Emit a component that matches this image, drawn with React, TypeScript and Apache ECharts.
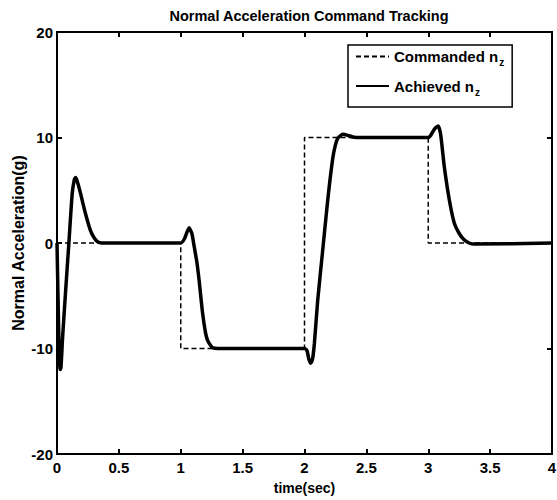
import React, { useEffect, useRef } from "react";
import * as echarts from "echarts";

const titleText = "Normal Acceleration Command Tracking";
const xAxisName = "time(sec)";
const yAxisName = "Normal Acceleration(g)";

const cmdTime = [0, 1, 1, 2, 2, 3, 3, 4];
const cmdValue = [0, 0, -10, -10, 10, 10, 0, 0];

const achTime = [
  0, 0.008, 0.016, 0.025, 0.032, 0.045, 0.07, 0.096, 0.123, 0.14, 0.15, 0.165, 0.19, 0.23, 0.27, 0.3, 0.33, 0.36,
  1.0, 1.03, 1.067, 1.09, 1.108, 1.13, 1.148, 1.176, 1.2, 1.216, 1.24, 1.26, 1.3,
  2.0, 2.02, 2.035, 2.05, 2.065, 2.08, 2.107, 2.147, 2.188, 2.228, 2.25, 2.27, 2.31, 2.35, 2.39, 2.45,
  3.0, 3.02, 3.05, 3.08, 3.1, 3.13, 3.17, 3.21, 3.25, 3.29, 3.33, 3.37, 4.0,
];
const achValue = [
  0, -5, -9.5, -12, -11.8, -9, -4.5, 0, 4.7, 6, 6.2, 5.8, 4.7, 2.8, 1.2, 0.5, 0.1, 0,
  0, 0.4, 1.45, 0.9, -0.3, -1.8, -3.5, -6.6, -8.5, -9.2, -9.7, -9.95, -10,
  -10, -10.2, -11, -11.4, -11, -9.5, -5.4, -0.7, 4.1, 8.0, 9.3, 9.95, 10.3, 10.2, 10.05, 10,
  10, 10.2, 10.8, 11.1, 10.3, 7.2, 4.1, 1.9, 0.9, 0.3, 0, -0.1, 0,
];

const seriesNames = ["Commanded nz", "Achieved nz"];
const legendLabels: Record<string, string> = {
  "Commanded nz": "{a|Commanded n}{z|z}",
  "Achieved nz": "{a|Achieved n}{z|z}",
};

const FONT = "'Liberation Sans', Arial, Helvetica, sans-serif";

export default function App() {
  const ref = useRef<HTMLDivElement>(null);
  useEffect(() => {
    if (!ref.current) return;
    const chart = echarts.init(ref.current, undefined, { renderer: "svg" });
    const cmdData = cmdTime.map((t, i) => [t, cmdValue[i]]);
    const achData = achTime.map((t, i) => [t, achValue[i]]);
    const tickLabel = { fontFamily: FONT, fontWeight: "bold" as const, fontSize: 15, color: "#000" };
    const axisLine = { show: true, onZero: false, lineStyle: { color: "#000", width: 2 } };
    const axisTick = { show: true, inside: true, length: 5, lineStyle: { color: "#000", width: 2 } };
    chart.setOption({
      animation: false,
      backgroundColor: "#fff",
      title: {
        text: titleText,
        left: 304,
        textAlign: "center",
        top: 3,
        textStyle: { fontFamily: FONT, fontWeight: "bold", fontSize: 14.5, color: "#000" },
      },
      grid: {
        left: 57,
        right: 5,
        top: 32,
        bottom: 46,
        containLabel: false,
        outerBoundsMode: "none",
        show: true,
        borderColor: "#000",
        borderWidth: 2,
        backgroundColor: "transparent",
      },
      legend: {
        orient: "vertical",
        left: 348,
        top: 45,
        width: 163,
        data: seriesNames,
        borderColor: "#000",
        borderWidth: 1.5,
        padding: [4, 8, 10, 7],
        itemWidth: 33,
        itemHeight: 14,
        itemGap: 11,
        itemStyle: { opacity: 0 },
        formatter: (name: string) => legendLabels[name],
        textStyle: {
          color: "#000",
          rich: {
            a: { fontFamily: FONT, fontWeight: "bold", fontSize: 15, color: "#000" },
            z: { fontFamily: FONT, fontWeight: "bold", fontSize: 10, color: "#000", padding: [12, 0, 0, 1] },
          },
        },
      },
      xAxis: [
        {
          type: "value",
          min: 0,
          max: 4,
          interval: 0.5,
          name: xAxisName,
          nameLocation: "middle",
          nameGap: 27,
          nameTextStyle: { fontFamily: FONT, fontWeight: "bold", fontSize: 14, color: "#000" },
          axisLine,
          axisTick,
          axisLabel: { ...tickLabel, margin: 6 },
          splitLine: { show: false },
        },
        {
          type: "value",
          position: "top",
          min: 0,
          max: 4,
          interval: 0.5,
          axisLine,
          axisTick,
          axisLabel: { show: false },
          splitLine: { show: false },
        },
      ],
      yAxis: [
        {
          type: "value",
          min: -20,
          max: 20,
          interval: 10,
          name: yAxisName,
          nameLocation: "middle",
          nameGap: 31,
          nameMoveOverlap: false,
          nameTextStyle: { fontFamily: FONT, fontWeight: "bold", fontSize: 16, color: "#000" },
          axisLine,
          axisTick,
          axisLabel: { ...tickLabel, margin: 4 },
          splitLine: { show: false },
        },
        {
          type: "value",
          position: "right",
          min: -20,
          max: 20,
          interval: 10,
          axisLine,
          axisTick,
          axisLabel: { show: false },
          splitLine: { show: false },
        },
      ],
      series: [
        {
          name: seriesNames[0],
          type: "line",
          data: cmdData,
          symbol: "none",
          lineStyle: { color: "#000", width: 1.5, type: [5, 3] },
          itemStyle: { color: "#000" },
          z: 3,
        },
        {
          name: seriesNames[1],
          type: "line",
          data: achData,
          symbol: "none",
          smooth: 0.2,
          lineStyle: { color: "#000", width: 3.5 },
          itemStyle: { color: "#000" },
          z: 4,
        },
      ],
    });
    return () => chart.dispose();
  }, []);
  return <div ref={ref} style={{ width: 557, height: 500, position: "absolute", left: 0, top: 0 }} />;
}
